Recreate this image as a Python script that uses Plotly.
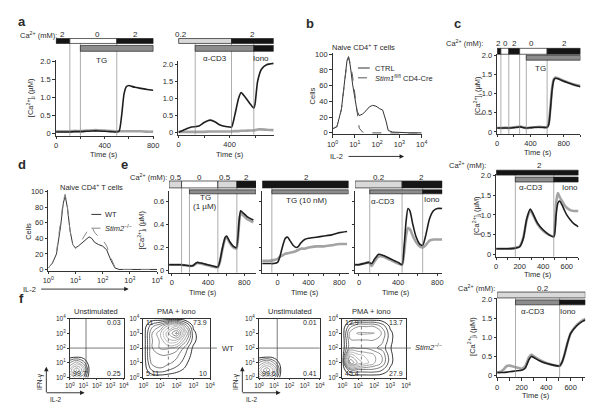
import plotly.graph_objects as go

W, H = 600, 403
FONT = "Liberation Sans, Arial, sans-serif"
TXT = "#2a2a2a"
BLACK, WHITE, LIGHT, GREY = "#151515", "#ffffff", "#d9d9d9", "#8c8c8c"

# ---------------- data ----------------
# panel a (left: TG, right: anti-CD3)
a1_t = [0, 50, 100, 150, 200, 250, 300, 350, 400, 450, 500, 520, 540, 560, 580, 600, 620, 650, 700, 750, 800]
a1_ctrl = [0.05, 0.05, 0.05, 0.06, 0.06, 0.07, 0.08, 0.08, 0.07, 0.06, 0.05, 0.08, 0.5, 1.1, 1.3, 1.33, 1.31, 1.28, 1.25, 1.22, 1.2]
a1_ko = [0.07, 0.07, 0.07, 0.08, 0.08, 0.09, 0.1, 0.1, 0.09, 0.08, 0.07, 0.07, 0.07, 0.07, 0.07, 0.07, 0.07, 0.07, 0.07, 0.06, 0.06]

a2_t = [0, 50, 100, 130, 160, 200, 245, 280, 330, 380, 415, 440, 470, 490, 520, 560, 590, 600, 620, 650, 690, 746]
a2_ctrl = [0.02, 0.1, 0.17, 0.18, 0.2, 0.3, 0.37, 0.33, 0.22, 0.18, 0.17, 0.5, 1.0, 1.17, 1.05, 0.85, 0.72, 0.85, 1.5, 1.85, 1.98, 2.02]
a2_ko = [0.03, 0.03, 0.03, 0.03, 0.03, 0.03, 0.04, 0.04, 0.04, 0.04, 0.04, 0.05, 0.05, 0.06, 0.06, 0.07, 0.07, 0.08, 0.1, 0.1, 0.09, 0.08]

# panel b (IL-2 histograms, log10 IL-2)
b_log = [0, 0.2, 0.4, 0.55, 0.65, 0.72, 0.8, 0.9, 1.0, 1.1, 1.2, 1.35, 1.5, 1.65, 1.8, 1.95, 2.1, 2.25, 2.4, 2.5, 2.7, 3.0, 3.5, 4.0]
b_ctrl = [5, 8, 30, 70, 92, 97, 85, 62, 42, 28, 22, 24, 28, 33, 35, 34, 31, 29, 15, 3, 1, 0.5, 0, 0]
b_stim1 = [5, 8, 30, 68, 90, 96, 88, 72, 50, 22, 6, 1, 0, 0, 0, 0, 0, 0, 0, 0, 0, 0, 0, 0]

# panel c top (TG)
c1_t = [0, 50, 100, 150, 200, 250, 280, 320, 350, 400, 450, 500, 550, 600, 620, 640, 660, 680, 700, 750, 800, 850, 900, 950, 1000]
c1_ctrl = [0.1, 0.1, 0.1, 0.1, 0.11, 0.12, 0.13, 0.11, 0.1, 0.11, 0.12, 0.12, 0.12, 0.12, 0.2, 0.6, 1.1, 1.35, 1.4, 1.37, 1.32, 1.28, 1.24, 1.21, 1.18]
c1_ko = [0.11, 0.1, 0.11, 0.1, 0.12, 0.13, 0.14, 0.12, 0.1, 0.11, 0.12, 0.13, 0.12, 0.12, 0.22, 0.65, 1.15, 1.37, 1.42, 1.38, 1.33, 1.29, 1.25, 1.22, 1.2]

# panel d
d_log = [0, 0.15, 0.3, 0.45, 0.55, 0.62, 0.7, 0.8, 0.9, 1.0, 1.1, 1.2, 1.35, 1.5, 1.6, 1.7, 1.85, 2.0, 2.15, 2.3, 2.45, 2.6, 3.0, 4.0]
d_wt = [2, 8, 20, 55, 85, 95, 80, 50, 32, 28, 30, 33, 38, 42, 40, 35, 32, 30, 25, 12, 2, 0, 0, 0]
d_stim2 = [2, 8, 22, 58, 88, 97, 82, 50, 32, 27, 30, 36, 45, 53, 55, 48, 42, 38, 30, 15, 3, 0, 0, 0]

# panel e
e1_t = [-30, 0, 50, 100, 150, 200, 230, 260, 280, 320, 370, 420, 470, 508, 530, 560, 590, 605, 640, 680, 713, 730, 745, 760, 790, 830, 900]
e1_ctrl = [0.05, 0.05, 0.05, 0.05, 0.045, 0.04, 0.04, 0.06, 0.07, 0.065, 0.055, 0.045, 0.035, 0.03, 0.08, 0.2, 0.29, 0.3, 0.25, 0.21, 0.2, 0.3, 0.45, 0.52, 0.5, 0.47, 0.44]
e1_ko = [0.05, 0.05, 0.05, 0.05, 0.045, 0.04, 0.04, 0.055, 0.065, 0.06, 0.05, 0.04, 0.03, 0.028, 0.07, 0.19, 0.28, 0.29, 0.24, 0.2, 0.19, 0.28, 0.43, 0.5, 0.48, 0.45, 0.42]

e2_t = [-200, -150, -100, -50, 0, 30, 60, 100, 130, 160, 200, 240, 270, 300, 350, 400, 500, 600, 700, 800, 900]
e2_ctrl = [0.06, 0.06, 0.06, 0.06, 0.07, 0.12, 0.2, 0.28, 0.29, 0.26, 0.22, 0.2, 0.21, 0.24, 0.27, 0.28, 0.29, 0.3, 0.31, 0.33, 0.34]
e2_ko = [0.085, 0.085, 0.085, 0.09, 0.1, 0.12, 0.13, 0.145, 0.15, 0.155, 0.16, 0.17, 0.18, 0.19, 0.19, 0.2, 0.21, 0.21, 0.22, 0.23, 0.23]

e3_t = [-40, 0, 50, 100, 130, 160, 200, 250, 300, 350, 400, 440, 460, 480, 500, 520, 550, 580, 620, 650, 680, 720, 760, 800, 850]
e3_ctrl = [0.05, 0.05, 0.06, 0.07, 0.06, 0.1, 0.14, 0.13, 0.11, 0.09, 0.07, 0.05, 0.2, 0.42, 0.54, 0.52, 0.4, 0.3, 0.23, 0.22, 0.3, 0.45, 0.52, 0.54, 0.54]
e3_ko = [0.05, 0.05, 0.06, 0.07, 0.04, 0.08, 0.12, 0.12, 0.1, 0.08, 0.06, 0.05, 0.15, 0.3, 0.37, 0.36, 0.3, 0.25, 0.21, 0.2, 0.22, 0.26, 0.27, 0.27, 0.27]

# panel c middle (anti-CD3, 2 mM)
c2_t = [0, 50, 100, 150, 170, 200, 230, 260, 290, 310, 350, 400, 450, 490, 500, 510, 525, 540, 560, 580, 600, 630, 660, 700]
c2_ctrl = [0.15, 0.15, 0.15, 0.16, 0.17, 0.2, 0.4, 0.9, 1.15, 1.05, 0.8, 0.62, 0.5, 0.45, 0.6, 1.0, 1.3, 1.35, 1.25, 1.12, 1.0, 0.88, 0.78, 0.7]
c2_ko = [0.15, 0.15, 0.15, 0.16, 0.18, 0.21, 0.42, 0.88, 1.12, 1.02, 0.78, 0.6, 0.5, 0.46, 0.7, 1.3, 1.55, 1.45, 1.35, 1.25, 1.18, 1.12, 1.1, 1.1]

# panel c bottom (anti-CD3, 0.2 mM)
c3_t = [0, 30, 50, 80, 100, 150, 200, 230, 260, 280, 300, 350, 400, 450, 510, 530, 550, 570, 600, 650, 700, 720]
c3_ctrl = [0.08, 0.08, 0.08, 0.09, 0.1, 0.12, 0.14, 0.2, 0.42, 0.5, 0.47, 0.38, 0.32, 0.28, 0.25, 0.35, 0.55, 0.8, 1.1, 1.3, 1.42, 1.45]
c3_ko = [0.08, 0.1, 0.15, 0.25, 0.26, 0.22, 0.18, 0.25, 0.48, 0.55, 0.5, 0.4, 0.33, 0.28, 0.25, 0.35, 0.55, 0.8, 1.1, 1.32, 1.45, 1.48]

# panel f: estimated density grids on log10 IL-2 (x) / log10 IFN-g (y)
f_grid = [0, 0.5, 1, 1.5, 2, 2.5, 3, 3.5, 4]
ZERO = [0] * 9
f1_z = [[3, 5, 3.5, 0, 0, 0, 0, 0, 0], [6, 9, 6, 0.3, 0, 0, 0, 0, 0], [3.5, 5, 3, 0, 0, 0, 0, 0, 0]] + [ZERO] * 6
f2_z = [ZERO,
        [0, 1.5, 2, 1.5, 1, 0.5, 0, 0, 0],
        [0, 2.5, 3, 2.5, 2, 1, 0, 0, 0],
        [0, 3, 3, 3, 2.5, 1.5, 0.3, 0, 0],
        [0, 3, 4, 4, 3.5, 2, 0.5, 0, 0],
        [0, 3, 4, 6, 6, 3.5, 1, 0, 0],
        [0, 3, 4.5, 7, 9, 5, 1, 0, 0],
        [0, 2, 3, 5, 6, 3, 0.5, 0, 0],
        ZERO]
f3_z = [[3, 5, 3.7, 0.2, 0, 0, 0, 0, 0], [6, 9, 6.2, 0.4, 0, 0, 0, 0, 0], [3.5, 5.2, 3.2, 0, 0, 0, 0, 0, 0]] + [ZERO] * 6
f4_z = [ZERO,
        [0, 2, 2, 2, 2, 1.5, 0.5, 0, 0],
        [0, 8, 6, 5, 4, 3, 1, 0, 0],
        [0, 6, 5, 4.5, 4, 3, 1, 0, 0],
        [0, 3, 3, 3, 2.5, 2, 0.8, 0, 0],
        [0, 3, 3, 3, 3, 2.5, 1, 0, 0],
        [0, 3.5, 4, 4, 4, 3, 1, 0, 0],
        [0, 2, 3, 3, 3, 2, 0.5, 0, 0],
        ZERO]
f_quadrants = {"f1": ["0.03", "0.25", "99.7", ""], "f2": ["73.9", "10", "5.11", "11"],
               "f3": ["0.01", "0.41", "99.6", ""], "f4": ["13.7", "27.9", "45.4", "12.9"]}

# ---------------- layout geometry (pixel calibration) ----------------
# (pix_a, val_a, pix_b, val_b, range0, range1)
EY = (263, 0, 193, 0.6, -0.02, 0.69)
FY = (372, 0, 312, 4, 0, 4)
panels = {
    "a1": dict(x=(43, 0, 142, 800, -5, 805), y=(124, 0, 50, 2.0, -0.05, 2.02)),
    "a2": dict(x=(168, 0, 220, 400, -5, 746), y=(123, 0, 53, 2.0, -0.05, 2.1)),
    "b": dict(x=(325, 0, 416, 4, 0, 4), y=(123, 0, 43, 100, -2, 102)),
    "c1": dict(x=(493, 0, 578, 1000, 0, 1000), y=(122, 0, 44, 2.0, -0.05, 2.02)),
    "d": dict(x=(35, 0, 146, 4, 0, 4), y=(262, 0, 183, 100, -2, 102)),
    "e1": dict(x=(161, 0, 198, 400, -30, 930), y=EY),
    "e2": dict(x=(269, 0, 300.5, 400, -200, 920), y=EY),
    "e3": dict(x=(352, 0, 392, 400, -40, 850), y=EY),
    "c2": dict(x=(492, 0, 516, 200, 0, 700), y=(247, 0, 166, 2.0, -0.05, 2.02)),
    "c3": dict(x=(493, 0, 518, 200, 0, 720), y=(370, 0, 292, 2.0, -0.05, 2.02)),
    "f1": dict(x=(57, 0, 112, 4, 0, 4), y=FY),
    "f2": dict(x=(132, 0, 200, 4, 0, 4), y=FY),
    "f3": dict(x=(250, 0, 312, 4, 0, 4), y=FY),
    "f4": dict(x=(335, 0, 400, 4, 0, 4), y=FY),
}


def pxmap(c, v):
    pa, va, pb, vb = c[:4]
    return pa + (v - va) * (pb - pa) / (vb - va)


def xdom(c):
    return [pxmap(c, c[4]) / W, pxmap(c, c[5]) / W]


def ydom(c):
    return [1 - pxmap(c, c[4]) / H, 1 - pxmap(c, c[5]) / H]


ids = {}
fig = go.Figure()
lay = {}
axstyle = dict(showline=True, linecolor="#333", linewidth=0.8, ticks="outside", ticklen=2.5,
               tickwidth=0.7, tickcolor="#333", showgrid=False, zeroline=False,
               tickfont=dict(size=7.5, color=TXT, family=FONT))
logticks = dict(tickvals=[0, 1, 2, 3, 4], ticktext=[f"10<sup>{k}</sup>" for k in range(5)])
for i, (name, cfg) in enumerate(panels.items(), start=1):
    xid = "x" if i == 1 else f"x{i}"
    yid = "y" if i == 1 else f"y{i}"
    ids[name] = (xid, yid)
    xa = dict(axstyle, domain=xdom(cfg["x"]), range=[cfg["x"][4], cfg["x"][5]], anchor=yid)
    ya = dict(axstyle, domain=ydom(cfg["y"]), range=[cfg["y"][4], cfg["y"][5]], anchor=xid)
    lay["xaxis" if i == 1 else f"xaxis{i}"] = xa
    lay["yaxis" if i == 1 else f"yaxis{i}"] = ya


def setx(name, **kw):
    i = list(panels).index(name) + 1
    lay["xaxis" if i == 1 else f"xaxis{i}"].update(kw)


def sety(name, **kw):
    i = list(panels).index(name) + 1
    lay["yaxis" if i == 1 else f"yaxis{i}"].update(kw)


for name in ["a1", "a2", "c1", "c2", "c3"]:
    sety(name, tickvals=[0, 0.5, 1.0, 1.5, 2.0], ticktext=["0", "0.5", "1.0", "1.5", "2.0"])
setx("a1", tickvals=[0, 200, 400, 600, 800], ticktext=["0", "", "400", "", "800"])
setx("a2", tickvals=[0, 200, 400, 600], ticktext=["0", "", "400", ""])
setx("c1", tickvals=[0, 200, 400, 600, 800, 1000], ticktext=["0", "", "400", "", "800", ""])
for n in ["c2", "c3"]:
    setx(n, tickvals=[0, 100, 200, 300, 400, 500, 600, 700], ticktext=["0", "", "200", "", "400", "", "600", ""])
for n in ["e1", "e2", "e3"]:
    setx(n, tickvals=[0, 200, 400, 600, 800], ticktext=["0", "", "400", "", "800"])
sety("e1", tickvals=[0, 0.2, 0.4, 0.6], ticktext=["0", "0.2", "0.4", "0.6"])
for n in ["e2", "e3"]:
    sety(n, tickvals=[0, 0.2, 0.4, 0.6], showticklabels=False)
for n in ["b", "d"]:
    setx(n, **logticks)
    sety(n, tickvals=[0, 20, 40, 60, 80, 100])
for n in ["f1", "f2", "f3", "f4"]:
    setx(n, mirror=True, ticklen=2, tickfont=dict(size=6.5, color=TXT, family=FONT), **logticks)
    sety(n, mirror=True, ticklen=2, tickfont=dict(size=6.5, color=TXT, family=FONT), **logticks)

# ---------------- traces ----------------
def ca_traces(name, t, ctrl, ko):
    xid, yid = ids[name]
    fig.add_trace(go.Scatter(x=t, y=ko, mode="lines", line=dict(color="#a3a3a3", width=2.6, shape="spline", smoothing=0.6),
                             xaxis=xid, yaxis=yid, showlegend=False, hoverinfo="skip"))
    fig.add_trace(go.Scatter(x=t, y=ctrl, mode="lines", line=dict(color="#1e1e1e", width=1.6, shape="spline", smoothing=0.6),
                             xaxis=xid, yaxis=yid, showlegend=False, hoverinfo="skip"))


ca_traces("a1", a1_t, a1_ctrl, a1_ko)
ca_traces("a2", a2_t, a2_ctrl, a2_ko)
ca_traces("c1", c1_t, c1_ctrl, c1_ko)
ca_traces("c2", c2_t, c2_ctrl, c2_ko)
ca_traces("c3", c3_t, c3_ctrl, c3_ko)
ca_traces("e1", e1_t, e1_ctrl, e1_ko)
ca_traces("e2", e2_t, e2_ctrl, e2_ko)
ca_traces("e3", e3_t, e3_ctrl, e3_ko)


def hist_traces(name, xs, solid, dashed, dcol):
    xid, yid = ids[name]
    fig.add_trace(go.Scatter(x=xs, y=solid, mode="lines", line=dict(color="#333", width=1.0),
                             xaxis=xid, yaxis=yid, showlegend=False, hoverinfo="skip"))
    fig.add_trace(go.Scatter(x=xs, y=dashed, mode="lines", line=dict(color=dcol, width=1.0, dash="dash"),
                             xaxis=xid, yaxis=yid, showlegend=False, hoverinfo="skip"))


hist_traces("b", b_log, b_ctrl, b_stim1, "#555")
hist_traces("d", d_log, d_wt, d_stim2, "#888")

fz = {"f1": (f1_z, 1.2, 9, 1.1), "f2": (f2_z, 0.7, 9, 0.8), "f3": (f3_z, 1.2, 9, 1.1), "f4": (f4_z, 0.7, 8, 0.8)}
for name, (z, s, e, st) in fz.items():
    xid, yid = ids[name]
    fig.add_trace(go.Contour(x=f_grid, y=f_grid, z=z, xaxis=xid, yaxis=yid, showscale=False, hoverinfo="skip",
                             contours=dict(coloring="lines", start=s, end=e, size=st),
                             colorscale=[[0, "#000"], [0.2, "#555"], [0.6, "#b0b0b0"], [1, "#555"]],
                             line=dict(width=0.8, smoothing=1.3)))

# ---------------- shapes: solution bars & event lines ----------------
shapes = []
bars = {
    "a1": ([(0, 113, BLACK), (113, 500, WHITE), (500, 800, BLACK)], [(200, 800, GREY)], (27, 32), (34, 40)),
    "a2": ([(0, 415, LIGHT), (415, 746, BLACK)], [(130, 590, GREY), (590, 746, BLACK)], (27, 32), (34, 40)),
    "c1": ([(0, 45, BLACK), (45, 140, WHITE), (140, 270, BLACK), (270, 600, WHITE), (600, 1000, BLACK)],
           [(350, 1000, GREY)], (37, 43), (44, 49)),
    "c2": ([(0, 700, BLACK)], [(163, 490, GREY), (490, 700, BLACK)], (161, 166), (168, 173)),
    "c3": ([(0, 720, LIGHT)], [(150, 510, GREY), (510, 720, BLACK)], (285, 291), (293, 298)),
    "e1": ([(-30, 108, LIGHT), (108, 508, WHITE), (508, 718, LIGHT), (718, 930, BLACK)], [(195, 930, GREY)], (172, 179), (181, 185)),
    "e2": ([(-200, 920, BLACK)], [(-75, 920, GREY)], (172, 179), (181, 185)),
    "e3": ([(-40, 440, LIGHT), (440, 850, BLACK)], [(110, 650, GREY), (650, 850, BLACK)], (172, 179), (181, 185)),
}
vlines = {"a1": [113, 200, 500], "a2": [130, 415, 590], "c1": [45, 140, 270, 350, 600], "c2": [163, 490],
          "c3": [150, 510], "e1": [108, 195, 508, 718], "e2": [-75], "e3": [110, 440, 650]}
for name, ts in vlines.items():
    xid, yid = ids[name]
    ybot = pxmap(panels[name]["y"], panels[name]["y"][4])
    ytop = bars[name][2][1]
    for t in ts:
        shapes.append(dict(type="line", xref=xid, yref="paper", x0=t, x1=t, y0=1 - ybot / H, y1=1 - ytop / H,
                           line=dict(color="#8a8a8a", width=0.7)))
for name, (top, sec, ytop, ysec) in bars.items():
    xid, _ = ids[name]
    for row, yy in ((top, ytop), (sec, ysec)):
        for (t0, t1, col) in row:
            shapes.append(dict(type="rect", xref=xid, yref="paper", x0=t0, x1=t1, y0=1 - yy[1] / H, y1=1 - yy[0] / H,
                               fillcolor=col, line=dict(color="#222", width=0.7)))

# quadrant lines in f
qx = {"f1": 1.2, "f2": 1.5, "f3": 1.2, "f4": 1.2}
for name in ["f1", "f2", "f3", "f4"]:
    xid, yid = ids[name]
    dash = "dot" if name in ("f2", "f4") else "solid"
    shapes.append(dict(type="line", xref=xid, yref=yid, x0=qx[name], x1=qx[name], y0=0, y1=4,
                       line=dict(color="#444", width=0.7, dash=dash)))
    xr = {"f2": 207, "f4": 405}.get(name)
    x0p = panels[name]["x"][0]
    x1p = xr if xr else panels[name]["x"][2]
    shapes.append(dict(type="line", xref="paper", yref=yid, x0=x0p / W, x1=x1p / W, y0=2, y1=2,
                       line=dict(color="#444", width=0.7)))

# legend samples
shapes += [
    dict(type="line", xref="paper", yref="paper", x0=351 / W, x1=363 / W, y0=1 - 57 / H, y1=1 - 57 / H, line=dict(color="#333", width=1)),
    dict(type="line", xref="paper", yref="paper", x0=351 / W, x1=363 / W, y0=1 - 67 / H, y1=1 - 67 / H, line=dict(color="#555", width=1, dash="dash")),
    dict(type="line", xref="paper", yref="paper", x0=79 / W, x1=89 / W, y0=1 - 206 / H, y1=1 - 206 / H, line=dict(color="#333", width=1)),
    dict(type="line", xref="paper", yref="paper", x0=79 / W, x1=89 / W, y0=1 - 220 / H, y1=1 - 220 / H, line=dict(color="#888", width=1, dash="dash")),
]

# ---------------- annotations ----------------
ann = []


def T(x, y, text, size=8, angle=0, xanchor="center", color=TXT):
    ann.append(dict(x=x / W, y=1 - y / H, xref="paper", yref="paper", text=text, showarrow=False,
                    font=dict(size=size, color=color, family=FONT), textangle=angle, xanchor=xanchor, yanchor="middle",
                    borderpad=0))


def arrow(xh, yh, xt, yt):
    ann.append(dict(x=xh / W, y=1 - yh / H, xref="paper", yref="paper", ax=xt - xh, ay=yt - yh, axref="pixel", ayref="pixel",
                    text="", showarrow=True, arrowhead=2, arrowsize=1, arrowwidth=0.9, arrowcolor="#222"))


CA = "Ca<sup>2+</sup> (mM):"
CAI = "[Ca<sup>2+</sup>]<sub>i</sub> (µM)"
for (x, y, l) in [(8, 10, "a"), (302, 12, "b"), (453, 12, "c"), (8, 155, "d"), (113, 155, "e"), (8, 292, "f")]:
    T(x, y, f"<b>{l}</b>", size=13)

# a
T(25, 23, CA, 7.5); T(49, 23, "2"); T(85, 23, "0"); T(124, 23, "2"); T(170, 23, "0.2"); T(243, 23, "2")
T(89, 49, "TG"); T(205, 47, "α-CD3"); T(252, 47, "Iono")
T(17, 87, CAI, 7.5, -90); T(92, 145, "Time (s)", 7.5); T(220, 145, "Time (s)", 7.5)
# b
T(357, 36, "Naive CD4<sup>+</sup> T cells", 7.5); T(367, 57, "CTRL", 7.5, xanchor="left")
T(367, 67, "<i>Stim1</i><sup>fl/fl</sup> CD4-Cre", 7.5, xanchor="left")
T(305, 85, "Cells", 7.5, -90); T(329, 147, "IL-2", 7.5); arrow(398, 147, 341, 147)
# c
T(460, 32, CA, 7.5)
for x, l in [(494, "2"), (502, "0"), (511, "2"), (528, "0"), (562, "2")]:
    T(x, 32, l)
T(537, 57, "TG"); T(473, 85, CAI, 7.5, -90); T(535, 143, "Time (s)", 7.5)
T(463, 156, CA, 7.5); T(536, 156, "2"); T(528, 179, "α-CD3"); T(567, 179, "Iono")
T(472, 207, CAI, 7.5, -90); T(535, 267, "Time (s)", 7.5)
T(472, 281, CA, 7.5); T(540, 281, "0.2"); T(530, 305, "α-CD3"); T(565, 305, "Iono")
T(467, 330, CAI, 7.5, -90); T(533, 390, "Time (s)", 7.5)
# d
T(79, 178, "Naive CD4<sup>+</sup> T cells", 7.5); T(92, 206, "WT", 7.5, xanchor="left")
T(92, 220, "<i>Stim2</i><sup>−/−</sup>", 7.5, xanchor="left"); T(14, 223, "Cells", 7.5, -90)
T(16, 282, "IL-2", 7.5); arrow(117, 282, 28, 282)
# e
T(137, 168, CA, 7.5)
for x, l in [(165, "0.5"), (189, "0"), (215, "0.5"), (237, "2"), (298, "2"), (372, "0.2"), (416, "2")]:
    T(x, 168, l)
T(195, 189, "TG"); T(195, 198, "(1 µM)"); T(298, 192, "TG (10 nM)"); T(377, 193, "α-CD3"); T(427, 191, "Iono")
T(130, 222, CAI, 7.5, -90)
for x in [193, 297, 390]:
    T(x, 285, "Time (s)", 7.5)
# f
T(84, 305, "Unstimulated", 7.5); T(166, 305, "PMA + iono", 7.5); T(282, 305, "Unstimulated", 7.5); T(365, 305, "PMA + iono", 7.5)
T(211, 342, "WT", 7.5, xanchor="left"); T(408, 341, "<i>Stim2</i><sup>−/−</sup>", 7.5, xanchor="left")
for name in ["f1", "f2", "f3", "f4"]:
    tr, br, bl, tl = f_quadrants[name]
    x0p = panels[name]["x"][0]
    x1p = panels[name]["x"][2]
    T(x1p - 2, 316, tr, 7, xanchor="right"); T(x1p - 2, 368, br, 7, xanchor="right")
    T(x0p + 2, 368, bl, 7, xanchor="left")
    if tl:
        T(x0p + 2, 316, tl, 7, xanchor="left")
for xa in [33, 233]:
    arrow(xa, 361, xa, 388); arrow(xa + 39, 387.5, xa - 0.5, 387.5)
    T(xa - 6, 376, "IFN-γ", 6.5, -90); T(xa + 10, 394, "IL-2", 6.5)

fig.update_layout(width=W, height=H, margin=dict(l=0, r=0, t=0, b=0), paper_bgcolor="white", plot_bgcolor="rgba(0,0,0,0)",
                  font=dict(family=FONT, size=8, color=TXT), shapes=shapes, annotations=ann, showlegend=False, **lay)
fig.write_html("out.html")
